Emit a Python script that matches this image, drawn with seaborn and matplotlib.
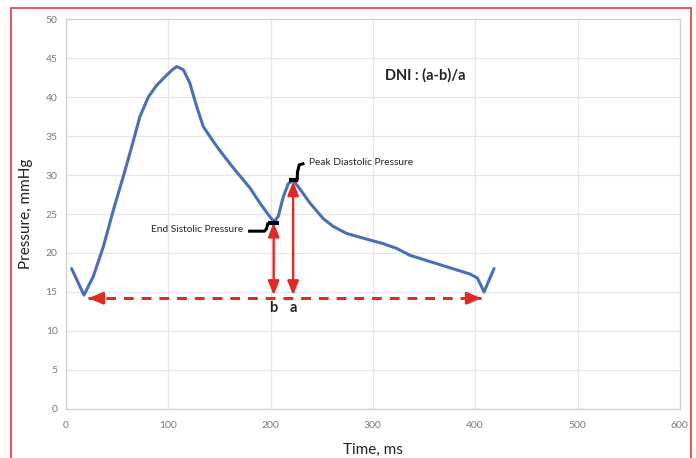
import matplotlib
matplotlib.use("Agg")
import matplotlib.pyplot as plt
from matplotlib.patches import Rectangle
import pandas as pd
import seaborn as sns

# Pressure waveform over one cardiac cycle
time_ms = [5.5, 17.6, 26.7, 36.5, 46.3, 56.0, 64.2, 72.3, 80.5, 88.6, 98.4,
           104.0, 108.2, 114.7, 121.0, 127.7, 134.2, 144.0, 150.0, 163.0,
           180.0, 189.6, 197.8, 203.3, 207.5, 212.4, 217.3, 222.2, 228.7,
           238.5, 251.5, 261.3, 274.4, 290.6, 310.0, 323.0, 336.3, 355.8,
           375.4, 394.9, 402.0, 405.4, 408.6, 412.8, 418.4]
pressure = [18.0, 14.6, 17.0, 20.8, 25.5, 29.8, 33.6, 37.5, 40.0, 41.5, 42.8,
            43.5, 43.9, 43.5, 41.8, 38.8, 36.2, 34.3, 33.2, 31.0,
            28.3, 26.4, 24.9, 24.0, 24.7, 27.2, 28.9, 29.3, 28.2,
            26.4, 24.4, 23.4, 22.5, 21.9, 21.2, 20.6, 19.7, 18.9,
            18.1, 17.3, 16.8, 15.9, 15.0, 16.3, 18.0]

# Key points of the notch analysis
baseline = 14.2
baseline_span = [22, 406]
end_systolic = (203, 23.9)    # b
peak_diastolic = (222, 29.2)  # a

x_ticks = [0, 100, 200, 300, 400, 500, 600]
y_ticks = [0, 5, 10, 15, 20, 25, 30, 35, 40, 45, 50]

df = pd.DataFrame({"Time, ms": time_ms, "Pressure, mmHg": pressure})

sns.set_theme(style="whitegrid")
plt.rcParams["font.family"] = ["Lato", "DejaVu Sans"]

fig = plt.figure(figsize=(6.96, 4.58), dpi=100)
ax = fig.add_axes([0.0948, 0.107, 0.882, 0.8515])

sns.lineplot(data=df, x="Time, ms", y="Pressure, mmHg", ax=ax,
             color="#4a6fb8", linewidth=2.2, sort=False, zorder=3)
ax.lines[-1].set_solid_joinstyle("round")

red = "#e02a25"
# dashed baseline with arrowheads at both ends
ax.plot(baseline_span, [baseline, baseline], color=red, lw=2.2,
        ls=(0, (3.2, 2.6)), zorder=4)
for x0, x1 in [(baseline_span[0] + 8, baseline_span[0]),
               (baseline_span[1] - 8, baseline_span[1])]:
    ax.annotate("", xy=(x1, baseline), xytext=(x0, baseline),
                arrowprops=dict(arrowstyle="-|>,head_length=0.7,head_width=0.3",
                                color=red, lw=2.0, shrinkA=0, shrinkB=0),
                zorder=4)

# vertical double arrows for b and a
for (tx, ty) in [end_systolic, peak_diastolic]:
    ax.annotate("", xy=(tx, ty), xytext=(tx, baseline + 0.4),
                arrowprops=dict(arrowstyle="<|-|>,head_length=0.7,head_width=0.28",
                                color=red, lw=1.7, shrinkA=0, shrinkB=0),
                zorder=5)

ax.text(end_systolic[0], 13.0, "b", ha="center", va="center",
        fontsize=10.5, fontweight="bold", color="#222222")
ax.text(peak_diastolic[0], 13.0, "a", ha="center", va="center",
        fontsize=10.5, fontweight="bold", color="#222222")

# leader marks for the annotated pressures
ax.plot([178, 194, 196, 197.5], [22.8, 22.8, 23.1, 23.9],
        color="black", lw=2.2, solid_capstyle="butt", zorder=6)
ax.plot([197.5, 208], [23.9, 23.9], color="black", lw=3, zorder=6,
        solid_capstyle="butt")
ax.plot([217.5, 227], [29.3, 29.3], color="black", lw=3, zorder=6,
        solid_capstyle="butt")
ax.plot([226, 226.3, 228, 233], [29.3, 30.4, 31.3, 31.5],
        color="black", lw=2.2, solid_capstyle="butt", zorder=6)

ax.text(173, 23.0, "End Sistolic Pressure", ha="right", va="center",
        fontsize=7.3, color="#222222")
ax.text(238, 31.6, "Peak Diastolic Pressure", ha="left", va="center",
        fontsize=7.3, color="#222222")
ax.text(351, 42.8, "DNI : (a-b)/a", ha="center", va="center",
        fontsize=10.5, fontweight="bold", color="#222222")

ax.set_xlim(0, 600)
ax.set_ylim(0, 50)
ax.set_xticks(x_ticks)
ax.set_yticks(y_ticks)
ax.tick_params(axis="both", labelsize=7.5, colors="#7a7a7a", length=0, pad=6)
ax.tick_params(axis="x", length=3, color="#cfcfcf", direction="out")
ax.grid(True, color="#e6e6e6", lw=0.9)
for s in ax.spines.values():
    s.set_color("#d0d0d0")
    s.set_linewidth(0.9)

ax.set_xlabel("Time, ms", fontsize=11, color="#222222", labelpad=9)
ax.set_ylabel("Pressure, mmHg", fontsize=11, color="#222222", labelpad=9)

# red frame around the figure
fig.patches.append(Rectangle((11 / 696, -0.05), 680 / 696, 1 - 8 / 458 + 0.05,
                             transform=fig.transFigure, fill=False,
                             edgecolor="#e8353a", lw=1.2))

fig.savefig("out.png", dpi=100, facecolor="white")
